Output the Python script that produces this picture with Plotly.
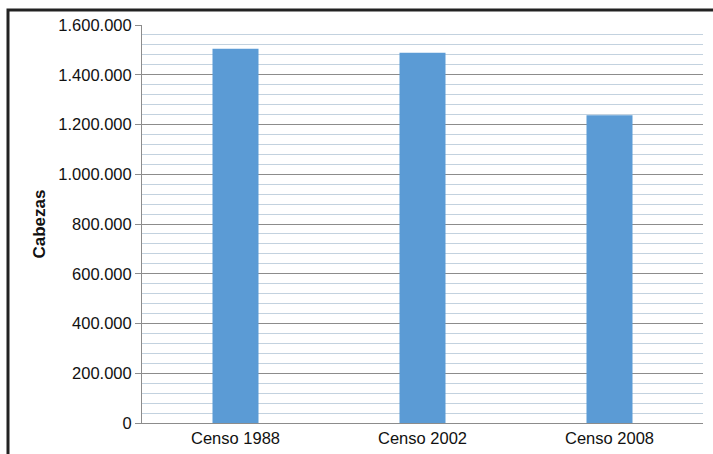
import plotly.graph_objects as go

# Cattle head counts by census
censos = ["Censo 1988", "Censo 2002", "Censo 2008"]
cabezas = [1505000, 1488000, 1237000]

y_ticks = [0, 200000, 400000, 600000, 800000, 1000000, 1200000, 1400000, 1600000]
y_tick_labels = ["0", "200.000", "400.000", "600.000", "800.000", "1.000.000",
                 "1.200.000", "1.400.000", "1.600.000"]

W, H = 713, 454
ML, MR, MT, MB = 142, 10, 25, 31
pw, ph = W - ML - MR, H - MT - MB

fig = go.Figure(
    go.Bar(
        x=censos,
        y=cabezas,
        marker=dict(color="#5b9bd5", line=dict(width=0)),
        width=0.246,
    )
)

fig.update_layout(
    width=W,
    height=H,
    margin=dict(l=ML, r=MR, t=MT, b=MB),
    paper_bgcolor="white",
    plot_bgcolor="white",
    showlegend=False,
    font=dict(family="Liberation Sans, Arial, sans-serif", size=16, color="#111"),
    xaxis=dict(
        showgrid=False,
        showline=True,
        linecolor="#8c8c8c",
        linewidth=1,
        ticks="",
        tickfont=dict(size=16.5, color="#111"),
        automargin=False,
        fixedrange=True,
    ),
    yaxis=dict(
        range=[0, 1600000],
        tickvals=y_ticks,
        ticktext=y_tick_labels,
        showline=True,
        linecolor="#8c8c8c",
        linewidth=1,
        ticks="outside",
        ticklen=6,
        tickcolor="#8c8c8c",
        showgrid=True,
        gridcolor="#8c8c8c",
        gridwidth=1,
        zeroline=False,
        minor=dict(dtick=40000, showgrid=True, gridcolor="#c3d2df", gridwidth=1, ticks=""),
        tickfont=dict(size=16.5, color="#111"),
        title=dict(text="<b>Cabezas</b>", font=dict(size=17, color="#111"), standoff=8),
        automargin=False,
        fixedrange=True,
    ),
    shapes=[
        dict(
            type="rect",
            xref="paper",
            yref="paper",
            x0=(8 - ML) / pw,
            x1=(W + 20 - ML) / pw,
            y0=-(MB + 20) / ph,
            y1=(H - MB - 10) / ph,
            line=dict(color="#222222", width=3),
            fillcolor="rgba(0,0,0,0)",
            layer="above",
        )
    ],
)

fig.write_html("out.html")
